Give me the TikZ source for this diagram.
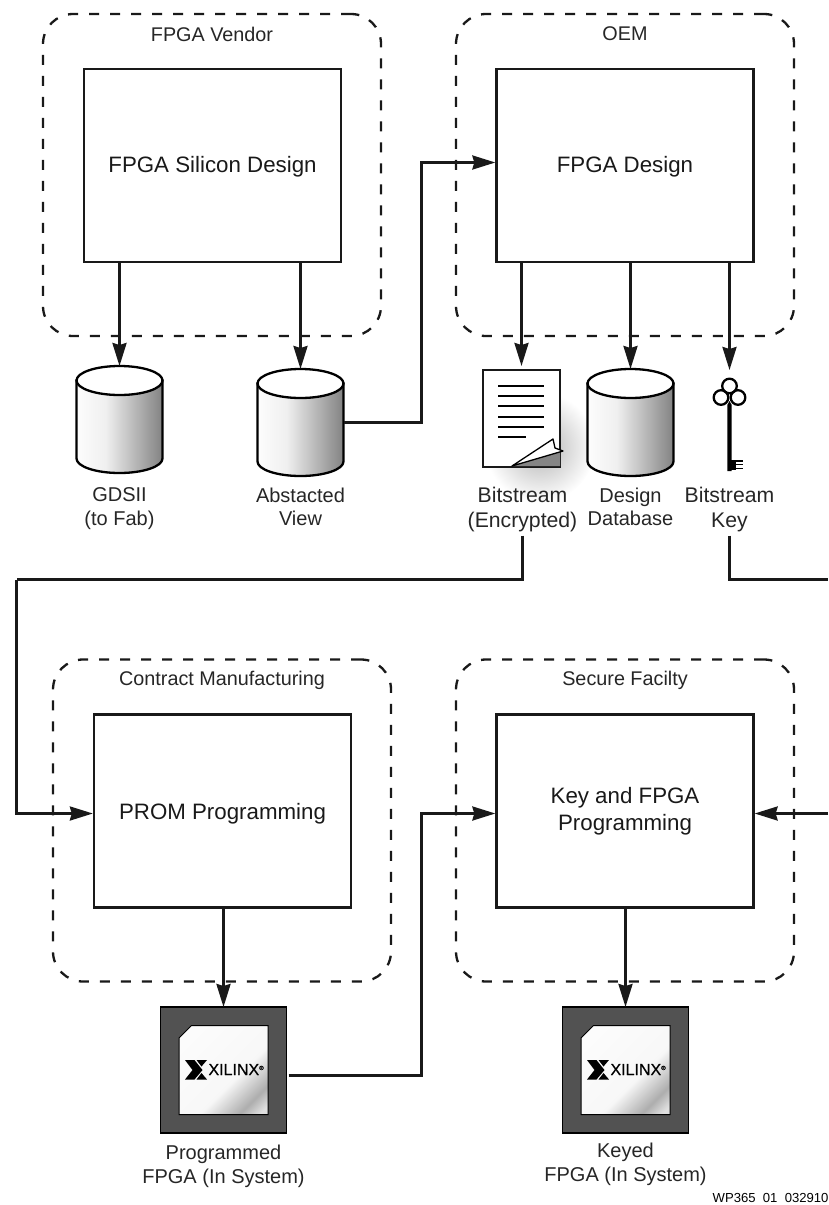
\documentclass[tikz,border=0pt]{standalone}
\usepackage{fontspec}
\setmainfont{Liberation Sans}
\usetikzlibrary{positioning,calc,arrows.meta}

\pgfdeclarehorizontalshading{dbshade}{100bp}{color(0bp)=(black!4); color(22bp)=(white); color(42bp)=(black!6); color(62bp)=(black!32); color(82bp)=(black!58); color(100bp)=(black!90)}
\pgfdeclarehorizontalshading{chipshade}{100bp}{color(0bp)=(white); color(58bp)=(black!3); color(74bp)=(black!32); color(82bp)=(black!12); color(100bp)=(black!20)}

\tikzset{
	region/.style={draw=black!90,line width=2.3pt,dash pattern=on 10pt off 11pt,rounded corners=30pt,minimum width=338pt,minimum height=322pt},
	regiontitle/.style={font=\fontsize{19.8}{22}\selectfont,inner sep=0pt,text=black!85},
	stage/.style={draw=black!90,line width=2.3pt,fill=white,minimum width=257pt,minimum height=193pt,align=center,text=black!90,font=\fontsize{22.3}{27}\selectfont},
	flow/.style={line width=2.7pt,draw=black!90,-{Stealth[length=23pt,width=14pt,inset=2pt]}},
	wire/.style={line width=2.7pt,draw=black!90},
	iconbox/.style={inner sep=0pt,outer sep=0pt},
	caption/.style={align=center,inner sep=0pt,font=\fontsize{20}{23.5}\selectfont,text=black!85},
	widecaption/.style={caption,font=\fontsize{21.2}{24.5}\selectfont},
}

% database drum: name, centre x, centre y
\newcommand{\dbdrum}[3]{
	\node[iconbox,minimum width=86pt,minimum height=107pt] (#1) at (#2,#3) {};
	\draw[line width=2.3pt,shading=dbshade] (#1.north west)++(0,14.5) -- ($(#1.south west)+(0,-14.5)$) arc[start angle=180,end angle=0,x radius=43,y radius=14.5] -- ($(#1.north east)+(0,14.5)$) -- cycle;
	\draw[line width=2.3pt,fill=white] ($(#1.north)+(0,14.5)$) ellipse (43 and 14.5);
}

% packaged part: name, centre x, centre y
\newcommand{\chippart}[3]{
	\node[iconbox,draw=black,line width=1.5pt,fill=black!68,minimum width=126pt,minimum height=126pt] (#1) at (#2,#3) {};
	\begin{scope}[shift={(#2,#3)}]
		\draw[line width=1pt,shading=chipshade,shading angle=-45] (-32,-44.5) -- (44.5,-44.5) -- (44.5,44.5) -- (-44.5,44.5) -- (-44.5,-32) -- cycle;
		\fill (-38.5,-10) -- (-29,-10) -- (-21,0) -- (-29,9.5) -- (-38.5,9.5) -- (-31,0) -- cycle;
		\fill (-27,-10) -- (-16.5,-10) -- (-22,-3.5) -- cycle;
		\fill (-27,9.5) -- (-16.5,9.5) -- (-22,3) -- cycle;
		\node[iconbox,anchor=west,font=\fontsize{16}{16}\selectfont] (#1logo) at (-15,-0.5) {\addfontfeature{FakeBold=0.5}XILINX\raisebox{5pt}{\fontsize{6}{6}\selectfont ®}};
	\end{scope}
}

\begin{document}
\begin{tikzpicture}[x=1pt,y=-1pt]
	\useasboundingbox (0,0) rectangle (828,1205);
	
	% top row
	\node[region] (vendor) at (212,175) {};
	\node[region] (oem) at (625,175) {};
	\node[regiontitle] (vendortitle) at (212,34) {FPGA Vendor};
	\node[regiontitle] (oemtitle) at (625,34) {OEM};
	\node[stage,text height=18pt] (silicon) at (212.5,165.5) {FPGA Silicon Design};
	\node[stage,text height=18pt] (design) at (625,165.5) {FPGA Design};
	
	% encrypted file with its curled corner
	\shade[inner color=black!30,outer color=white] (540,447) circle (55);
	\node[iconbox,draw=black!90,line width=2.3pt,fill=white,minimum width=77pt,minimum height=97pt] (bitfile) at (521.5,418.5) {};
	\foreach \yline in {386,396,406,417,427}
		\draw[line width=1.6pt] (498,\yline) -- (544,\yline);
	\draw[line width=1.6pt] (498,437) -- (526,437);
	\fill[black!48] (512,466) -- (560,449) -- (560,466) -- cycle;
	\draw[line width=1.3pt,fill=white,line join=round] (512,466) -- (553,439) -- (555,448) -- (563,451) -- cycle;
	
	\dbdrum{gds}{119.5}{419.5}
	\dbdrum{abstract}{300.5}{422.5}
	\dbdrum{database}{630.5}{422.5}
	
	% key
	\node[iconbox,minimum width=40pt,minimum height=102pt] (keyicon) at (729.5,421) {};
	\draw[line width=2.3pt] (729.5,386) circle (7.3);
	\draw[line width=2.3pt] (721,397.5) circle (7.3);
	\draw[line width=2.3pt] (738,397.5) circle (7.3);
	\fill (727.3,405) -- (729.5,401) -- (731.7,405) -- (731.7,471) -- (727.3,471) -- cycle;
	\fill (729,460) rectangle (736,469.5);
	\draw[line width=1.5pt] (735,460.8) -- (743,460.8) (735,464.7) -- (743,464.7) (735,468.6) -- (743,468.6);
	
	\node[caption,below=14.5pt of gds] (gdscap) {GDSII\\(to Fab)};
	\node[caption,below=11.5pt of abstract] (abstractcap) {Abstacted\\View};
	\node[widecaption,below=20pt of bitfile,xshift=1pt] (bitcap) {Bitstream\\(Encrypted)};
	\node[caption,below=11.5pt of database] (databasecap) {Design\\Database};
	\node[widecaption,below=15pt of keyicon] (keycap) {Bitstream\\Key};
	
	\draw[flow] (gds.north |- silicon.south) -- (gds.north);
	\draw[flow] (abstract.north |- silicon.south) -- (abstract.north);
	\draw[flow,shorten >=4pt] (bitfile.north |- design.south) -- (bitfile.north);
	\draw[flow] (database.north |- design.south) -- (database.north);
	\draw[flow] (keyicon.north |- design.south) -- (keyicon.north);
	
	% bottom row
	\node[region] (contract) at (222,820.5) {};
	\node[region] (secure) at (625,820.5) {};
	\node[regiontitle] (contracttitle) at (222,680) {Contract Manufacturing};
	\node[regiontitle] (securetitle) at (625,680) {Secure Facilty};
	\node[stage,text height=22pt] (prom) at (222.5,811) {PROM Programming};
	\node[stage] (keyprog) at (625,811) {Key and FPGA\\Programming};
	
	\chippart{progchip}{223.5}{1070}
	\chippart{keyedchip}{625.5}{1070}
	
	\node[caption,below=12pt of progchip] (progcap) {Programmed\\FPGA (In System)};
	\node[caption,below=10pt of keyedchip] (keyedcap) {Keyed\\FPGA (In System)};
	
	\draw[flow] (progchip.north |- prom.south) -- (progchip.north);
	\draw[flow] (keyedchip.north |- keyprog.south) -- (keyedchip.north);
	
	% routes between the rows
	\coordinate (bustop) at (421.5,300);
	\coordinate (busbot) at (421.5,950);
	\coordinate (leftbus) at (16.5,579.5);
	\coordinate (keyout) at (828,579.5);
	\coordinate (keyin) at (828,813.5);
	
	\draw[flow] (abstract.east) -| (bustop) |- ([yshift=3pt]design.west);
	\draw[wire] ($(bitcap.south)+(0,4)$) |- (leftbus);
	\draw[flow] (leftbus) |- ([yshift=-2.5pt]prom.west);
	\draw[wire] ($(keycap.south)+(0,4)$) |- (keyout);
	\draw[flow] (keyin) -- (keyin -| keyprog.east);
	\draw[flow] ([xshift=2pt,yshift=-5.5pt]progchip.east) -| (busbot) |- ([yshift=-2.5pt]keyprog.west);
	
	\node[inner sep=0pt,anchor=west,font=\fontsize{13.1}{15}\selectfont] (partno) at (712.5,1198) {WP365~~01~~032910};
\end{tikzpicture}
\end{document}
